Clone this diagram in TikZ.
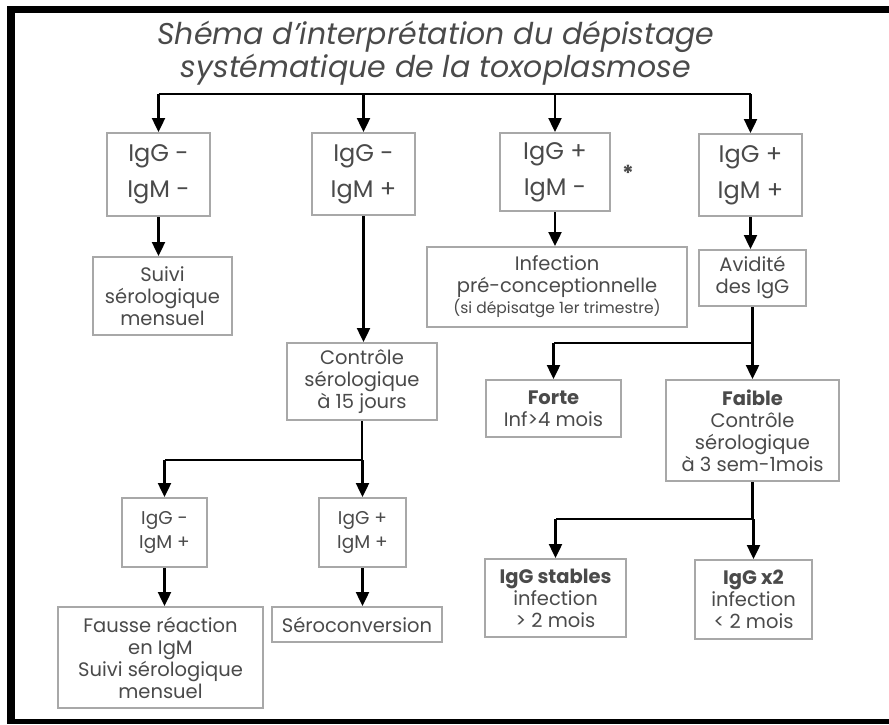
\documentclass[tikz,border=0pt]{standalone}
\usepackage{fontspec}
\setmainfont{Poppins}
\usetikzlibrary{arrows.meta}
\definecolor{txt}{HTML}{4A4A4A}
\definecolor{bord}{HTML}{A8A8A8}
\begin{document}
\begin{tikzpicture}[x=1pt,y=-1pt,
  box/.style={draw=bord, line width=2pt, text=txt, align=center, inner sep=0pt},
  big/.style={font=\fontsize{24}{36}\selectfont},
  med/.style={font=\fontsize{19.5}{22}\selectfont},
  mid/.style={font=\fontsize{18.5}{24.5}\selectfont},
  conn/.style={line width=2.4pt, black},
  arr/.style={conn, -{Triangle[length=14pt,width=13pt]}}]
\useasboundingbox (0,0) rectangle (889,724);
\fill[white] (0,0) rectangle (889,724);
% frame
\fill[black] (7,6) rectangle (15,724);
\fill[black] (7,6) rectangle (889,13);
\fill[black] (7,719) rectangle (889,724);
% title
\node[text=txt, font=\fontsize{30}{33}\selectfont\itshape, align=center, inner sep=0pt] (title) at (436,53)
  {Shéma d'interprétation du dépistage\\systématique de la toxoplasmose};
% top row
\node[box, big, minimum width=103pt, minimum height=83pt] (b1) at (158.5,174.5) {IgG -\\IgM -};
\node[box, big, minimum width=103pt, minimum height=82pt] (b2) at (363.5,174) {IgG -\\IgM +};
\node[box, big, minimum width=110pt, minimum height=78pt] (b3) at (555,172) {IgG +\\IgM -};
\node[box, big, minimum width=103pt, minimum height=82pt] (b4) at (750.5,175) {IgG +\\IgM +};
\node[text=txt, font=\fontsize{22}{22}\selectfont\bfseries, inner sep=0pt] (star) at (628,173) {*};
% second row
\node[box, med, minimum width=139pt, minimum height=78pt] (s1) at (162.5,296) {Suivi\\sérologique\\mensuel};
\node[box, med, minimum width=260pt, minimum height=80pt] (inf) at (557,287)
  {Infection\\pré-conceptionnelle\\[-1pt]{\fontsize{15.5}{18}\selectfont (si dépisatge 1er trimestre)}};
\node[box, med, minimum width=107pt, minimum height=56pt] (avid) at (752.5,278) {Avidité\\des IgG};
\node[box, med, minimum width=150pt, minimum height=77pt] (c15) at (362,381.5) {Contrôle\\sérologique\\à 15 jours};
% avidity branch
\node[box, med, minimum width=135pt, minimum height=57pt] (forte) at (553.5,408.5) {\textbf{Forte}\\Inf>4 mois};
\node[box, med, minimum width=173pt, minimum height=101pt] (faible) at (752.5,430.5)
  {\textbf{Faible}\\Contrôle\\sérologique\\à 3 sem-1mois};
\node[box, med, minimum width=141pt, minimum height=78pt] (stab) at (555.5,598) {\textbf{IgG stables}\\infection\\> 2 mois};
\node[box, med, minimum width=117pt, minimum height=79pt] (x2) at (753.5,599.5) {\textbf{IgG x2}\\infection\\< 2 mois};
% control branch
\node[box, mid, minimum width=85pt, minimum height=69pt] (m1) at (164.5,532.5) {IgG -\\IgM +};
\node[box, mid, minimum width=87pt, minimum height=69pt] (m2) at (362.5,532.5) {IgG +\\IgM +};
\node[box, med, minimum width=205pt, minimum height=101pt] (fausse) at (160.5,657.5)
  {Fausse réaction\\en IgM\\Suivi sérologique\\mensuel};
\node[box, med, minimum width=170pt, minimum height=35pt] (sero) at (357,624.5) {Séroconversion};
% connectors
\coordinate (bar) at (0,94);
\draw[conn] (b1.north |- bar) -- (b4.north |- bar);
\foreach \n in {b1,b2,b3,b4} \draw[arr] (\n.north |- bar) -- (\n.north);
\draw[arr] (b1.south) -- (b1.south |- s1.north);
\draw[arr] (b2.south) -- (b2.south |- c15.north);
\draw[arr] (b3.south) -- (b3.south |- inf.north);
\draw[arr] (b4.south) -- (b4.south |- avid.north);
% avidity split
\coordinate (av) at (0,343);
\draw[conn] (avid.south) -- (avid.south |- av) -- (forte.north |- av);
\draw[arr] (forte.north |- av) -- (forte.north);
\draw[arr] (faible.north |- av) -- (faible.north);
% faible split
\coordinate (fb) at (0,519);
\draw[conn] (faible.south) -- (faible.south |- fb) -- (stab.north |- fb);
\draw[arr] (stab.north |- fb) -- (stab.north);
\draw[arr] (x2.north |- fb) -- (x2.north);
% control split
\coordinate (cb) at (0,460);
\draw[conn] (c15.south) -- (c15.south |- cb) -- (m1.north |- cb);
\draw[arr] (m1.north |- cb) -- (m1.north);
\draw[arr] (m2.north |- cb) -- (m2.north);
\draw[arr] (m1.south) -- (m1.south |- fausse.north);
\draw[arr] (m2.south) -- (m2.south |- sero.north);
\end{tikzpicture}
\end{document}
